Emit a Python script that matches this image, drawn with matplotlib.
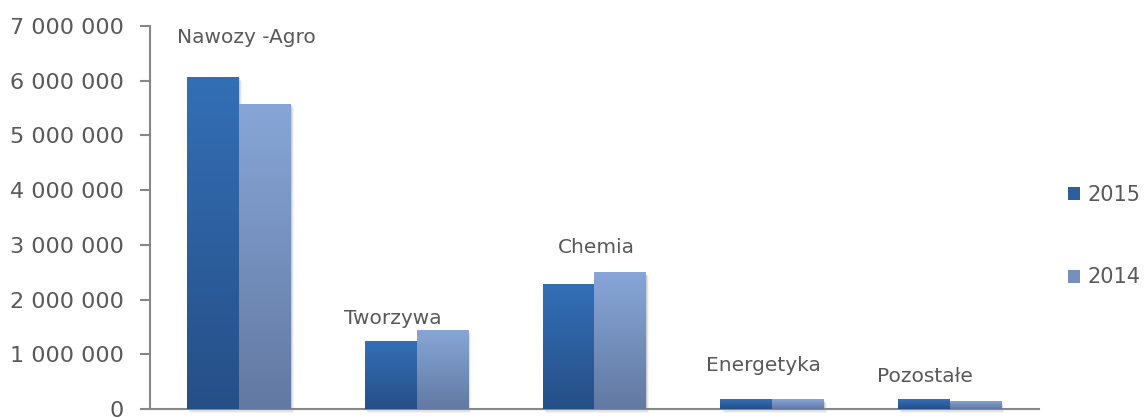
import matplotlib
matplotlib.use("Agg")
import matplotlib.pyplot as plt
import numpy as np
from matplotlib.colors import LinearSegmentedColormap
from matplotlib.patches import Rectangle
from matplotlib.ticker import FuncFormatter

categories = ["Nawozy -Agro", "Tworzywa", "Chemia", "Energetyka", "Pozostałe"]
values_2015 = [6070000, 1240000, 2290000, 180000, 180000]
values_2014 = [5580000, 1440000, 2500000, 180000, 150000]
series_labels = ["2015", "2014"]

# label anchor for each category: (x offset from group centre, height)
label_dx = [0.04, -0.135, 0.01, -0.05, -0.14]
label_y = [6780000, 1660000, 2960000, 790000, 600000]

TEXT = "#595959"
AXIS = "#878787"

# top / bottom colours of the gradient fill per series
grad_2015 = ("#336fb6", "#264f87")
grad_2014 = ("#87a6d7", "#6279a2")

fig = plt.figure(figsize=(11.48, 4.18), dpi=100)
ax = fig.add_axes([0.1307, 0.0215, 0.774, 0.9165])

x = np.arange(len(categories))
w = 0.29


def gradient_bars(xpos, heights, colors, label):
    cmap = LinearSegmentedColormap.from_list("g", [colors[1], colors[0]])
    mid = cmap(0.5)
    bars = ax.bar(xpos, heights, w, color=mid, label=label, zorder=2)
    grad = np.linspace(0, 1, 256).reshape(-1, 1)
    for b in bars:
        x0, y0 = b.get_x(), b.get_y()
        bw, bh = b.get_width(), b.get_height()
        # soft drop shadow to the right and below
        for i, a in enumerate([0.10, 0.07, 0.04]):
            off = 0.006 * (i + 1)
            ax.add_patch(Rectangle((x0 + off, y0 - 25000 * (i + 1)), bw, bh,
                                   color="black", alpha=a, lw=0, zorder=1,
                                   clip_on=False))
        im = ax.imshow(grad, cmap=cmap, origin="lower", aspect="auto",
                       extent=(x0, x0 + bw, y0, y0 + bh), zorder=3)
        im.set_clip_path(b)
    return bars


gradient_bars(x - w / 2, values_2015, grad_2015, series_labels[0])
gradient_bars(x + w / 2, values_2014, grad_2014, series_labels[1])

for i, name in enumerate(categories):
    ax.text(x[i] + label_dx[i], label_y[i], name, ha="center", va="center",
            fontsize=14.5, color=TEXT)

ax.set_xlim(-0.5, len(categories) - 0.5)
ax.set_ylim(0, 7000000)
ax.set_yticks(np.arange(0, 7000001, 1000000))
ax.yaxis.set_major_formatter(
    FuncFormatter(lambda v, p: f"{int(v):,}".replace(",", " ")))
ax.set_xticks([])
ax.tick_params(axis="y", labelsize=16, labelcolor=TEXT, color=AXIS,
               length=7, width=1.5, pad=12)

for s in ["top", "right"]:
    ax.spines[s].set_visible(False)
for s in ["left", "bottom"]:
    ax.spines[s].set_color(AXIS)
    ax.spines[s].set_linewidth(1.5)

fig.legend(handles=ax.patches[:0] or None, loc="center left",
           bbox_to_anchor=(0.930, 0.435), bbox_transform=fig.transFigure,
           frameon=False, fontsize=15, labelcolor=TEXT, handlelength=0.58,
           handleheight=0.58, handletextpad=0.38, labelspacing=3.0,
           borderpad=0, borderaxespad=0)

fig.savefig("out.png", dpi=100)
